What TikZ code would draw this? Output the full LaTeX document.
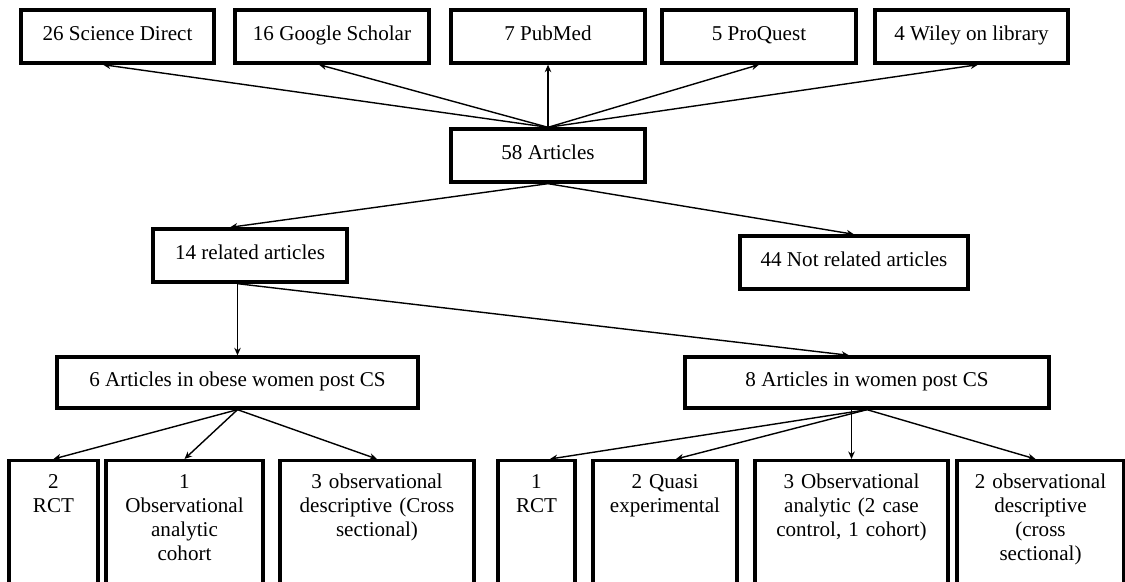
\documentclass[tikz,border=0pt]{standalone}
\usepackage{fontspec}
\setmainfont{Liberation Serif}
\usetikzlibrary{arrows.meta}

\tikzset{
	box/.style={draw, line width=1.9pt, inner sep=0pt, minimum height=1.06cm, text height=0.72em, text depth=0.3em, font=\fontsize{12}{13.6}\selectfont},
	leaf/.style={draw, line width=1.9pt, anchor=north, align=center, text width=#1, inner xsep=0pt, inner ysep=1mm, text height=4.6mm, text depth=21.6mm, font=\fontsize{12}{13.6}\selectfont},
	link/.style={-{Stealth[length=1.5mm,width=1.3mm]}, line width=0.8pt},
}

\begin{document}
\begin{tikzpicture}
	\useasboundingbox (0,0) rectangle (22.5,-11.64);
	\clip (0,0) rectangle (22.5,-11.64);
				\node   (sd) at (2.35,-0.73) [box, minimum width=3.86cm] {26 Science Direct};
				\node   (gs) at (6.64,-0.73) [box, minimum width=3.88cm] {16 Google Scholar};
				\node   (pm) at (10.96,-0.73) [box, minimum width=3.88cm] {7 PubMed};
				\node   (pq) at (15.18,-0.73) [box, minimum width=3.88cm] {5 ProQuest};
				\node   (wl) at (19.43,-0.73) [box, minimum width=3.86cm] {4 Wiley on library};
			\node	(arts) at (10.96,-3.11) [box, minimum width=3.88cm] {58 Articles};
			\node	(rel) at (5.0,-5.11) [box, minimum width=3.88cm] {14 related articles};
			\node	(notrel) at (17.08,-5.25) [box, minimum width=4.56cm] {44 Not related articles};
			\node	(obese) at (4.75,-7.65) [box, minimum width=7.22cm, minimum height=1.02cm] {6 Articles in obese women post CS};
			\node	(women) at (17.34,-7.65) [box, minimum width=7.28cm, minimum height=1.02cm] {8 Articles in women post CS};
			\node	(rcta) at (1.07,-9.18) [leaf=1.78cm] {2\\RCT};
			\node	(coh) at (3.69,-9.18) [leaf=3.14cm] {1\\Observational\\analytic\\cohort};
			\node	(crsa) at (7.54,-9.18) [leaf=3.88cm] {3 observational\\descriptive (Cross\\sectional)};
			\node	(rctb) at (10.73,-9.18) [leaf=1.54cm] {1\\RCT};
			\node	(qsi) at (13.3,-9.18) [leaf=2.88cm] {2 Quasi\\experimental};
			\node	(ana) at (17.03,-9.18) [leaf=3.86cm] {3 Observational\\analytic (2 case\\control, 1 cohort)};
			\node	(crsb) at (20.81,-9.18) [leaf=3.34cm] {2 observational\\descriptive\\(cross\\sectional)};
			
			\draw 
			(arts.north) edge[link] ([xshift=-2.9mm]sd.south)
			(arts.north) edge[link] ([xshift=-2.6mm]gs.south)
			(arts.north) edge[link] (pm.south)
			(arts.north) edge[link] (pq.south)
			(arts.north) edge[link] ([xshift=1.3mm]wl.south)
			(arts.south) edge[link] ([xshift=-4mm]rel.north)
			(arts.south) edge[link] (notrel.north)
			(rel.south -| obese.north) edge[link] (obese.north)
			(rel.south -| obese.north) edge[link] ([xshift=-3.6mm]women.north)
			(obese.south) edge[link] (rcta.north)
			(obese.south) edge[link] (coh.north)
			(obese.south) edge[link] (crsa.north)
			(women.south) edge[link] ([xshift=2.7mm]rctb.north)
			(women.south) edge[link] ([xshift=2.2mm]qsi.north)
			(women.south -| ana.north) edge[link] (ana.north)
			(women.south) edge[link] ([xshift=-1mm]crsb.north)
			;
		\end{tikzpicture}
\end{document}
